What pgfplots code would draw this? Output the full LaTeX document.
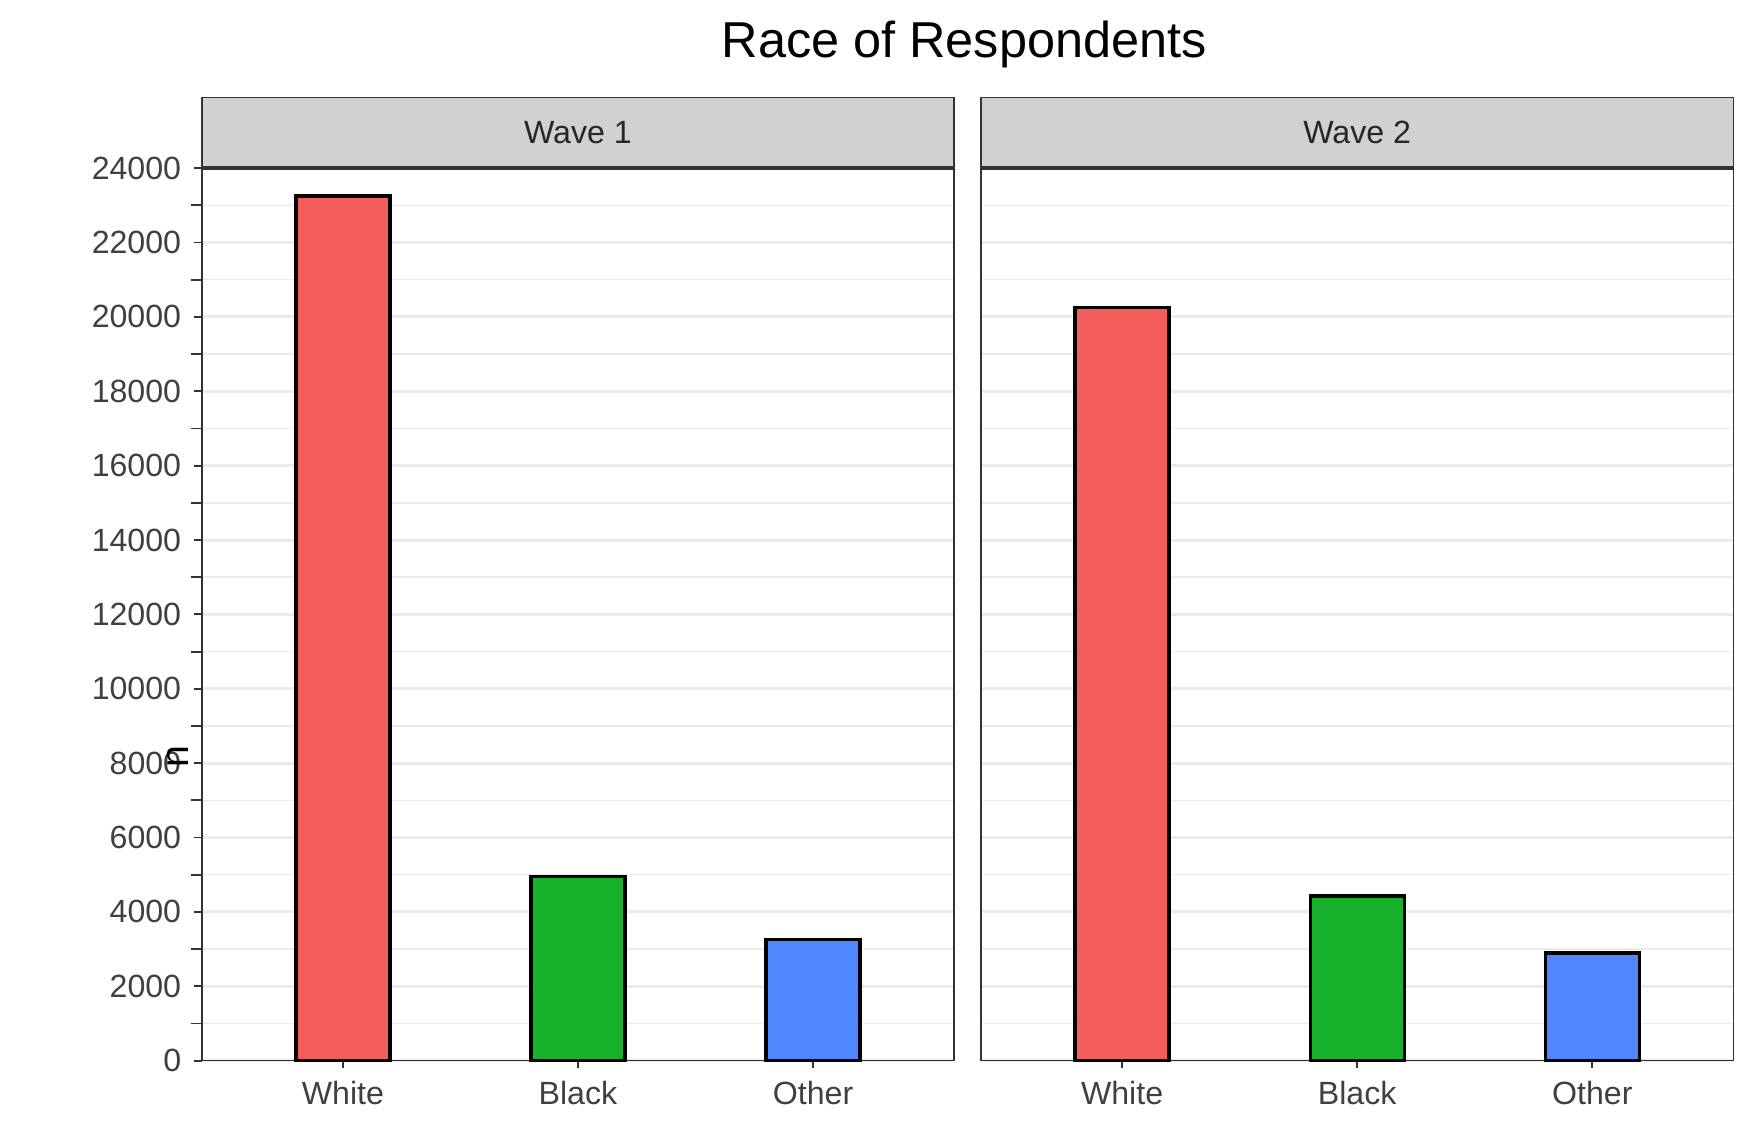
\documentclass[border=0pt]{standalone}
\usepackage{pgfplots}
\pgfplotsset{compat=1.18}
\usepackage{fontspec}
\setmainfont{Liberation Sans}
\definecolor{cr}{HTML}{F35E5A}
\definecolor{cg}{HTML}{17B12B}
\definecolor{cb}{HTML}{5086FF}
\definecolor{strip}{HTML}{D1D1D1}
\definecolor{gridc}{HTML}{EBEBEB}
\pgfplotsset{panel/.style={
  scale only axis, width=201.3pt, height=238.8pt,
  xmin=0.4, xmax=3.6, ymin=0, ymax=24000,
  xtick={1,2,3}, xticklabels={White,Black,Other},
  ytick={0,2000,...,24000}, minor ytick={1000,3000,...,23000},
  ymajorgrids, yminorgrids,
  major grid style={gridc, line width=0.8pt},
  minor grid style={gridc, line width=0.4pt},
  axis line style={black!80, line width=0.4pt},
  tick align=outside, major tick length=2pt,
  tick style={black!80, line width=0.5pt},
  ticklabel style={font=\fontsize{8.6}{10}\selectfont, text=black!75},
  /pgf/number format/assume math mode=true,
  scaled y ticks=false, yticklabel style={/pgf/number format/set thousands separator={}},
  xtick pos=bottom, ytick pos=left,
  ybar, bar width=0.4, bar shift=0pt,
  clip=false, axis on top=false,
  every axis plot/.append style={draw=black, line width=0.9pt},
}}
\begin{document}
\begin{tikzpicture}
\begin{axis}[panel, at={(54pt,21.6pt)}, anchor=south west,
  ylabel={n}, ylabel style={font=\fontsize{10.5}{12}\selectfont, at={(rel axis cs:0,0.5)}, xshift=-38pt}]
\addplot[fill=cr] coordinates {(1,23250)};
\addplot[fill=cg] coordinates {(2,4950)};
\addplot[fill=cb] coordinates {(3,3260)};
\draw[fill=strip, draw=black!80, line width=0.4pt] (rel axis cs:0,1) rectangle ([yshift=18.9pt]rel axis cs:1,1);
\draw[black!80, line width=1pt] (rel axis cs:0,1) -- (rel axis cs:1,1);
\node[font=\fontsize{8.6}{10}\selectfont, text=black!85] at ([yshift=9.45pt]rel axis cs:0.5,1) {Wave 1};
\end{axis}
\begin{axis}[panel, at={(262.5pt,21.6pt)}, anchor=south west, yticklabels={}, ytick style={draw=none}]
\addplot[fill=cr] coordinates {(1,20260)};
\addplot[fill=cg] coordinates {(2,4430)};
\addplot[fill=cb] coordinates {(3,2895)};
\draw[fill=strip, draw=black!80, line width=0.4pt] (rel axis cs:0,1) rectangle ([yshift=18.9pt]rel axis cs:1,1);
\draw[black!80, line width=1pt] (rel axis cs:0,1) -- (rel axis cs:1,1);
\node[font=\fontsize{8.6}{10}\selectfont, text=black!85] at ([yshift=9.45pt]rel axis cs:0.5,1) {Wave 2};
\end{axis}
\node[font=\fontsize{13.5}{15}\selectfont] at (258pt,293.4pt) {Race of Respondents};
\pgfresetboundingbox
\path (0,0) rectangle (470.4pt,305.4pt);
\end{tikzpicture}
\end{document}
